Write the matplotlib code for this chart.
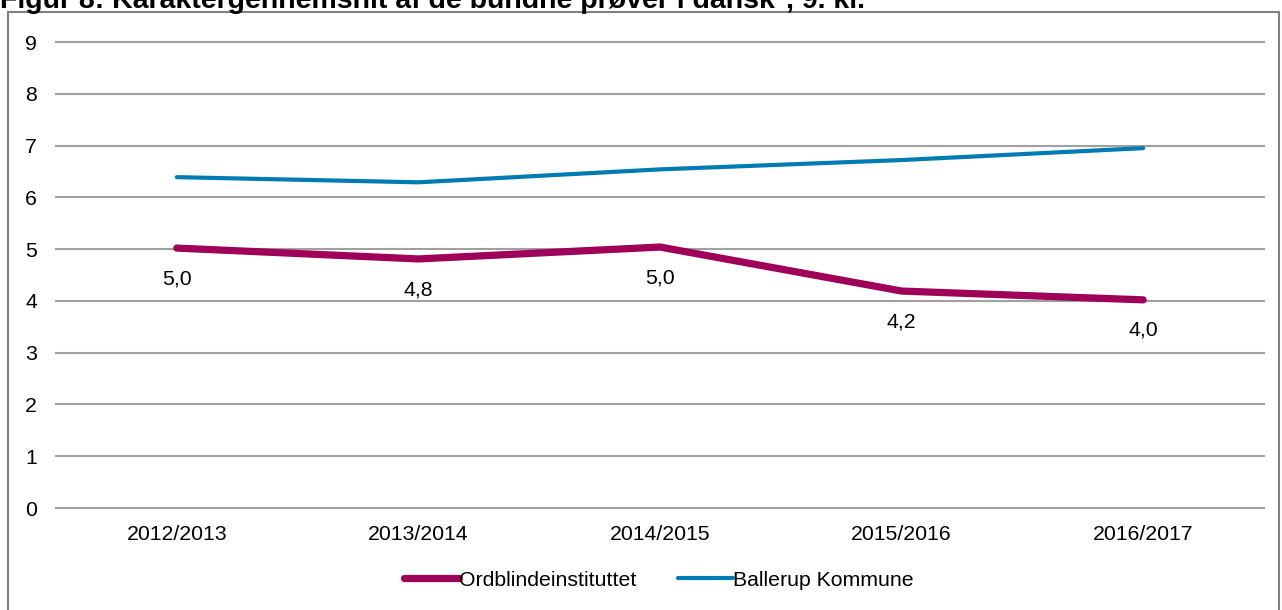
import matplotlib as mpl
import matplotlib.pyplot as plt
from matplotlib.patches import Rectangle

# data
years = ['2012/2013', '2013/2014', '2014/2015', '2015/2016', '2016/2017']
ordblinde = [5.02, 4.81, 5.04, 4.19, 4.02]
ordblinde_labels = ['5,0', '4,8', '5,0', '4,2', '4,0']
ballerup = [6.39, 6.29, 6.54, 6.72, 6.95]

purple = '#9E005A'
blue = '#007CB2'
grid_col = '#A0A0A0'
fs = 15.3

mpl.rcParams['font.family'] = ['Liberation Sans', 'DejaVu Sans']

fig = plt.figure(figsize=(12.82, 6.10), dpi=100)
ax = fig.add_axes([56 / 1282, 102 / 610, 1208 / 1282, 466 / 610])

x = list(range(len(years)))
ax.plot(x, ordblinde, color=purple, lw=5.2, solid_capstyle='round',
        solid_joinstyle='miter', label='Ordblindeinstituttet', zorder=3)
ax.plot(x, ballerup, color=blue, lw=3.0, solid_capstyle='round',
        label='Ballerup Kommune', zorder=3)

for xi, yi, lab in zip(x, ordblinde, ordblinde_labels):
    ax.annotate(lab, (xi, yi), xytext=(0, -22), textcoords='offset points',
                ha='center', va='center', fontsize=fs, color='#000000')

ax.set_xlim(-0.5, len(years) - 0.5)
ax.set_ylim(0, 9)
ax.set_yticks(range(0, 10))
ax.set_xticks(x)
ax.set_xticklabels(years)
ax.tick_params(axis='both', length=0, labelsize=fs, colors='#000000')
ax.tick_params(axis='y', pad=13.5)
ax.tick_params(axis='x', pad=12)
ax.grid(axis='y', color=grid_col, lw=1.5, zorder=1)
ax.set_axisbelow(True)
for s in ax.spines.values():
    s.set_visible(False)
for gl in ax.get_ygridlines():
    gl.set_clip_on(False)

leg = ax.legend(loc='center', bbox_to_anchor=(0.499, -0.155), ncol=2, frameon=False,
                fontsize=fs, handlelength=2.55, handletextpad=0.0, columnspacing=2.0)

# outer frame of the figure
fig.patches.append(Rectangle((8 / 1282, -0.05), 1271 / 1282, (598 / 610) + 0.05,
                             transform=fig.transFigure, fill=False,
                             edgecolor='#808080', lw=1.5))

fig.text(0.0, 1.0 - 8 / 610, 'Figur 8: Karaktergennemsnit af de bundne prøver i dansk*, 9. kl.',
         ha='left', va='baseline', fontsize=20.5, fontweight='bold')

fig.savefig('out.png', dpi=100)
